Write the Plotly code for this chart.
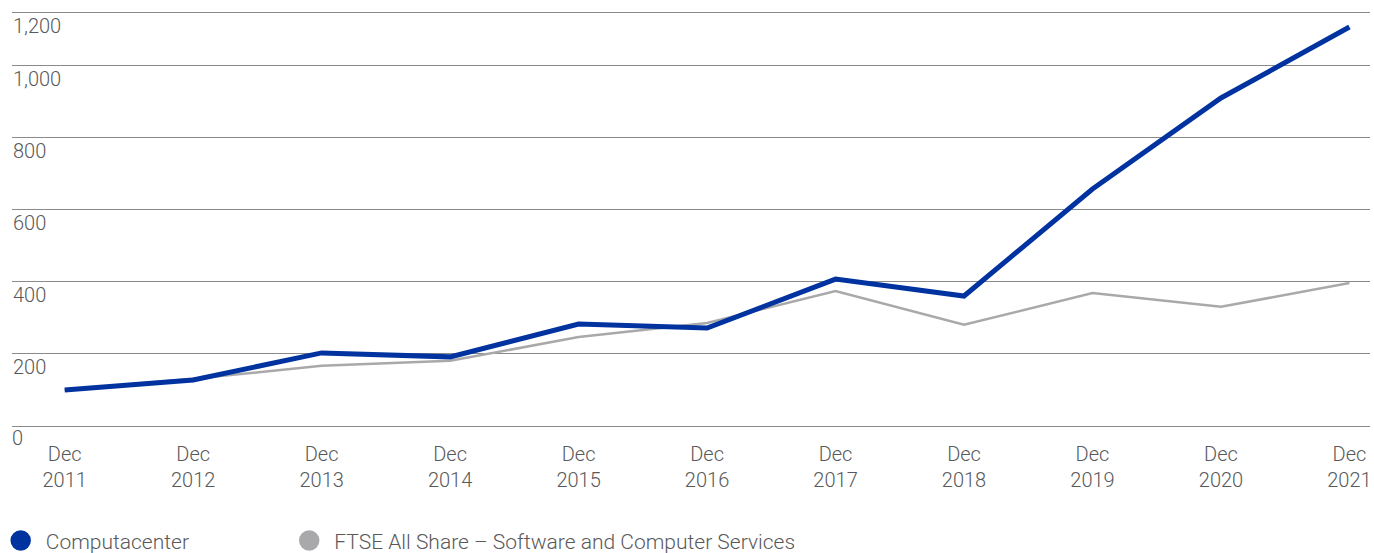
import plotly.graph_objects as go

years = ["2011", "2012", "2013", "2014", "2015", "2016", "2017", "2018", "2019", "2020", "2021"]
tick_labels = ["Dec<br>" + y for y in years]
computacenter = [100, 128, 203, 192, 283, 272, 408, 361, 658, 911, 1108]
ftse_software = [100, 131, 167, 181, 247, 286, 375, 281, 369, 331, 397]
y_ticks = [200, 400, 600, 800, 1000]
y_tick_text = ["200", "400", "600", "800", "1,000"]
y_top = 1147
y_top_text = "1,200"

BLUE = "#0033a0"
GREY = "#a9a9ab"
GRID = "#8a8a8c"
TEXT = "#58595b"
FONT = "Roboto"

xs = list(range(len(years)))

fig = go.Figure()
fig.add_trace(go.Scatter(x=xs, y=ftse_software, mode="lines",
                         line=dict(color=GREY, width=2.5), showlegend=False))
fig.add_trace(go.Scatter(x=xs, y=computacenter, mode="lines",
                         line=dict(color=BLUE, width=5), showlegend=False))
# legend entries with circle markers
fig.add_trace(go.Scatter(x=[None], y=[None], mode="markers", name=" Computacenter",
                         marker=dict(color=BLUE, size=16, line=dict(color=BLUE, width=4.5)),
                         legend="legend"))
fig.add_trace(go.Scatter(x=[None], y=[None], mode="markers",
                         name=" FTSE All Share – Software and Computer Services",
                         marker=dict(color=GREY, size=16, line=dict(color=GREY, width=4.5)),
                         legend="legend2"))

tick_font = dict(family=FONT, size=20, color=TEXT, weight=300)
legend_font = dict(family=FONT, size=21, color=TEXT, weight=300)

fig.update_layout(
    width=1374, height=553,
    margin=dict(l=12, r=4, t=13, b=127, autoexpand=False),
    plot_bgcolor="white", paper_bgcolor="white",
    font=tick_font,
    xaxis=dict(
        range=[-0.41, 10.16],
        tickvals=xs, ticktext=tick_labels,
        showgrid=False, zeroline=False,
        showline=True, mirror=True, linecolor=GRID, linewidth=1.3,
        ticks="", ticklabelstandoff=10,
        tickfont=tick_font,
    ),
    yaxis=dict(
        range=[0, y_top],
        tickvals=y_ticks + [y_top - 0.5], ticktext=y_tick_text + [y_top_text],
        showgrid=True, gridcolor=GRID, gridwidth=1.3,
        zeroline=False, showline=False,
        ticklabelposition="inside", ticklabelshift=13, ticklabelstandoff=-2,
        tickfont=tick_font,
    ),
    annotations=[dict(
        text="0", xref="paper", yref="y", x=0, y=0,
        xanchor="left", yanchor="middle", yshift=-12, xshift=-2,
        showarrow=False, font=tick_font,
    )],
    legend=dict(
        orientation="h", xref="container", yref="container",
        x=0.0005, y=0.022, xanchor="left", yanchor="middle",
        font=legend_font, itemsizing="trace",
    ),
    legend2=dict(
        orientation="h", xref="container", yref="container",
        x=0.2105, y=0.022, xanchor="left", yanchor="middle",
        font=legend_font, itemsizing="trace",
    ),
)

fig.write_html("out.html")
